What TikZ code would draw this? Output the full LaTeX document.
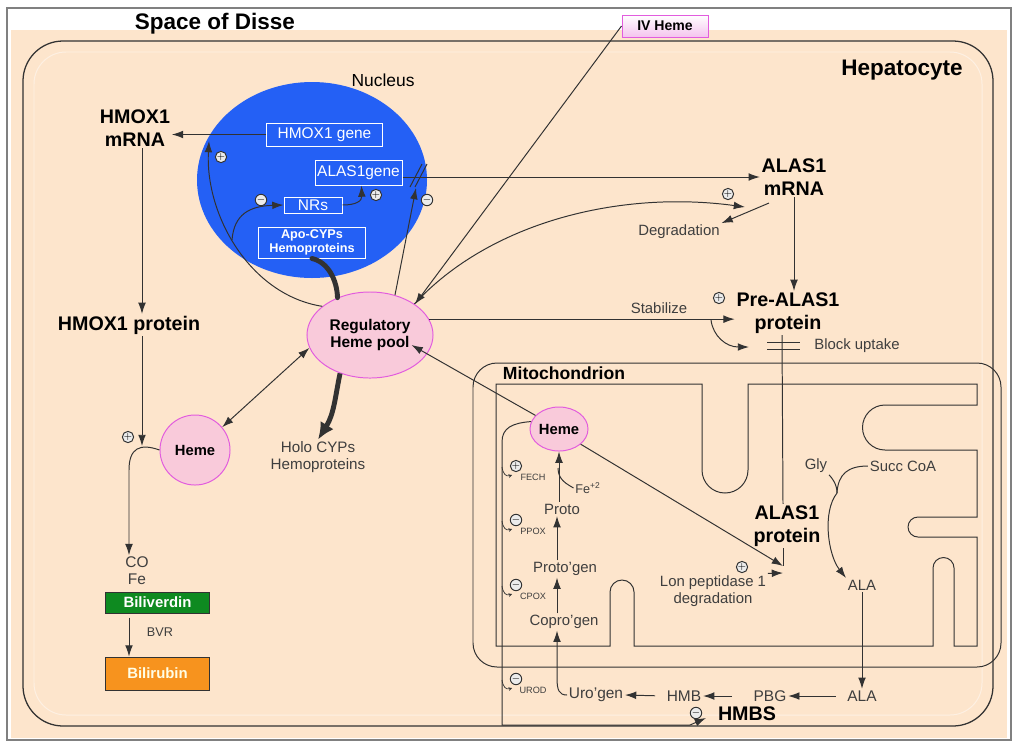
\documentclass[tikz,border=0pt]{standalone}
\usepackage{fontspec}
\setmainfont{Liberation Sans}
\usetikzlibrary{arrows.meta,calc,shapes.geometric}
\definecolor{peach}{RGB}{253,229,204}
\definecolor{nucblue}{RGB}{36,96,245}
\definecolor{pinkfill}{RGB}{249,202,218}
\definecolor{pinkline}{RGB}{226,92,222}
\definecolor{ivpink}{RGB}{244,196,238}
\definecolor{bvgreen}{RGB}{14,138,32}
\definecolor{brorange}{RGB}{247,147,30}
\definecolor{ink}{RGB}{50,50,50}
\definecolor{txt}{RGB}{62,62,62}
\newcommand\fsz[2]{\fontsize{#1}{#2}\selectfont}

\begin{document}
\begin{tikzpicture}[x=0.025cm,y=-0.025cm,line width=0.7pt,ink,
  arr/.style={-{Latex[length=8pt,width=5.5pt]}},
  lab/.style={text=txt,font=\fsz{10.6}{12.5},inner sep=1pt,align=center},
  big/.style={text=black,font=\fsz{14}{16}\bfseries,inner sep=1pt,align=center},
  gene/.style={draw=white,text=white,font=\fsz{11}{13},inner sep=0pt,align=center},
  hemenode/.style={ellipse,draw=pinkline,fill=pinkfill,text=black,font=\fsz{10.5}{12}\bfseries,inner sep=0pt},
  sgn/.style={circle,draw=ink,fill=white!85!gray,text=black,inner sep=0pt,minimum size=0.24cm,font=\fsz{7}{7}},
  enz/.style={text=txt,font=\fsz{6.5}{7},inner sep=0pt},
  hk/.style={-{Stealth[length=2.5pt,width=2.5pt]},line width=0.5pt}]
\useasboundingbox (0,0) rectangle (1024,752);
\fill[peach] (11,30) rectangle (1007,738);
\draw[gray,line width=1.1pt] (7,8) rectangle (1011,740);
\draw[line width=0.9pt,rounded corners=1cm] (23,41) rectangle (993,726);
\draw[white,opacity=0.45,rounded corners=0.8cm] (34,52) rectangle (982,715);
\fill[nucblue] (312,180) ellipse [x radius=115,y radius=98];
\draw[rounded corners=0.6cm] (473,363) rectangle (1001,667);
\draw (496,384) -- (702,384) -- (702,470) arc[start angle=180,end angle=0,radius=23] -- (748,384) -- (977,384) -- (977,405) -- (885,405) arc[start angle=270,end angle=90,radius=22.5] -- (977,450) -- (977,517) -- (918,517) arc[start angle=270,end angle=90,radius=10] -- (977,537) -- (977,646) -- (954,646) -- (954,568) arc[start angle=0,end angle=-180,radius=10.5] -- (933,646) -- (634,646) -- (634,592) arc[start angle=0,end angle=-180,radius=12] -- (610,646) -- (496,646) -- cycle;

\node[font=\fsz{16}{18}\bfseries,text=black] (disse) at (215,24) {Space of Disse};
\node[font=\fsz{16}{18}\bfseries,text=black] (hep) at (902,70) {Hepatocyte};
\node[font=\fsz{12.4}{14},text=black] (nuc) at (383,80) {Nucleus};
\node[font=\fsz{12.5}{14}\bfseries,text=black] (mito) at (564,373) {Mitochondrion};
\node[draw=pinkline,top color=white,bottom color=ivpink,text=black,font=\fsz{10}{12}\bfseries,minimum width=2.15cm,minimum height=0.55cm,inner sep=0pt] (iv) at (665,26) {IV Heme};

\node[gene,minimum width=2.875cm,minimum height=0.575cm] (hgene) at (324.5,134.5) {HMOX1 gene};
\node[gene,minimum width=2.175cm,minimum height=0.625cm] (agene) at (358.5,172.5) {ALAS1gene};
\node[gene,minimum width=1.45cm,minimum height=0.4cm] (nrs) at (313,205) {NRs};
\node[gene,font=\fsz{9}{10}\bfseries,minimum width=2.65cm,minimum height=0.775cm] (apo) at (312,242.5) {Apo-CYPs\\Hemoproteins};

\node[big] (hrna) at (135,128) {HMOX1\\mRNA};
\node[big] (hprot) at (129,325) {HMOX1 protein};
\node[big] (arna) at (794,177) {ALAS1\\mRNA};
\node[big] (prea) at (788,313) {Pre-ALAS1\\protein};
\node[big] (aprot) at (787,526) {ALAS1\\protein};
\node[big] (hmbs) at (747,714) {HMBS};

\node[hemenode,minimum width=3.15cm,minimum height=2.15cm,font=\fsz{11}{12.5}\bfseries,align=center] (pool) at (370,335) {Regulatory\\Heme pool};
\node[hemenode,minimum width=1.75cm,minimum height=1.75cm] (hemeC) at (195,450) {Heme};
\node[hemenode,minimum width=1.45cm,minimum height=1.1cm] (hemeM) at (559,429) {Heme};

\node[lab] (deg) at (679,232) {Degradation};
\node[lab] (stab) at (659,308) {Stabilize};
\node[lab] (blk) at (857,346) {Block uptake};
\node[lab,font=\fsz{10.8}{12}] (holo) at (318,457) {Holo CYPs\\Hemoproteins};
\node[lab,font=\fsz{11}{12}] (co) at (137,571) {CO\\Fe};
\node[draw=ink,fill=bvgreen,text=white,font=\fsz{10.6}{12}\bfseries,minimum width=2.575cm,minimum height=0.525cm,inner sep=0pt] (bv) at (157.5,602.5) {Biliverdin};
\node[draw=ink,fill=brorange,text=white!90!yellow,font=\fsz{10.6}{12}\bfseries,minimum width=2.575cm,minimum height=0.825cm,inner sep=0pt] (br) at (157.5,673.5) {Bilirubin};
\node[lab,font=\fsz{9}{10}] (bvr) at (160,632) {BVR};

\node[lab] (proto) at (562,509) {Proto};
\node[lab] (protog) at (565,569) {Proto'gen};
\node[lab] (copro) at (564,622) {Copro'gen};
\node[lab,font=\fsz{9}{10}] (fe) at (588,488) {Fe\textsuperscript{+2}};
\node[lab] (lon) at (713,591) {Lon peptidase 1\\degradation};
\node[lab] (gly) at (816,466) {Gly};
\node[lab] (succ) at (903,466) {Succ CoA};
\node[lab] (alaM) at (862,585) {ALA};
\node[lab,font=\fsz{11}{12}] (alaB) at (862,696) {ALA};
\node[lab,font=\fsz{11}{12}] (pbg) at (770,696) {PBG};
\node[lab,font=\fsz{11}{12}] (hmb) at (684,696) {HMB};
\node[lab,font=\fsz{11}{12}] (uro) at (596,695) {Uro'gen};

\coordinate (hup) at (209,141);
\coordinate (fork) at (232,240);
\coordinate (slash) at (416,188);
\coordinate (dtip) at (745,207);
\coordinate (bk) at (711,320);
\coordinate (bktip) at (749,347);
\coordinate (lontip) at (783,566);
\coordinate (jn) at (142,446);
\coordinate (join) at (837,493);
\coordinate (hmbtip) at (706,718);

\draw[arr] (hgene.west) -- (hgene.west -| hrna.east);
\draw[arr] (pool.149) .. controls (250,295) and (205,215) .. (hup);
\draw[arr] (fork) .. controls (234,214) and (250,206) .. (nrs.west);
\draw[arr] (nrs.east) .. controls (356,205) and (362,201) .. ($(agene.south)+(3,0)$);
\draw[arr] (agene.east |- arna.west) -- (arna.west);
\foreach \d in {0,5} \draw (410+\d,187) -- (422+\d,164);
\draw[arr] (pool.58) -- (slash);
\draw[arr] (iv.west) -- (pool.north east);
\draw[arr] (pool.35) .. controls (490,222) and (620,190) .. (dtip);
\draw[arr] ($(arna.south)+(-25,6)$) -- (deg.north east);
\draw[arr] (arna.south) -- (arna.south |- prea.north);
\draw[arr] (pool.15) -- (pool.15 -| prea.west);
\draw[arr] (bk) .. controls (713,336) and (726,347) .. (bktip);
\draw (767,342) -- (800,342) (767,349) -- (800,349);
\draw ($(prea.south)+(-6,0)$) -- ($(aprot.north)+(-4,0)$);
\draw ($(aprot.south)+(-4,0)$) -- (lontip);
\draw[arr] (hemeM.-35) -- (lontip);
\draw[arr] (lon.north east) -- ($(lontip)+(0,7)$);
\draw[arr] (hemeM.150) -- ($(pool.east)+(-22,10)$);
\draw[{Latex[length=8pt,width=5.5pt]}-{Latex[length=8pt,width=5.5pt]}] (pool.192) -- (hemeC.40);
\draw[line width=3.5pt,line cap=round] (apo.south) .. controls (328,262) and (337,280) .. (pool.131);
\draw[line width=3.5pt,-{Latex[length=12pt,width=11pt]}] (pool.232) .. controls (335,398) and (334,414) .. (holo.north);

\draw[arr] (jn |- hrna.south) -- (jn |- hprot.north);
\draw[arr] (jn |- hprot.south) -- (jn);
\draw[arr] (hemeC.west) .. controls (140,443) and (129,448) .. (129,470) -- ($(co.north)+(-8,0)$);
\draw[arr,shorten <=3pt] ($(bv.south)+(-28.5,0)$) -- ($(br.north)+(-28.5,0)$);

\draw[arr] (uro.west) .. controls (559,695) and (557,690) .. (557,678) -- ($(copro.south)+(-7,0)$);
\draw[arr] ($(copro.north)+(-7,0)$) -- ($(protog.south)+(-8,0)$);
\draw[arr] ($(protog.north)+(-8,0)$) -- ($(proto.south)+(-5,0)$);
\draw[arr] ($(proto.north)+(-3,0)$) -- (hemeM.south);
\draw (fe.west) .. controls (567,484) and (558,480) .. (558,468);
\draw[arr] (hemeM.165) .. controls (512,423) and (502,428) .. (502,442) -- (502,725) -- (690,725) -- (hmbtip);
\draw[arr] (alaM.south) -- (alaB.north);
\draw[arr,shorten <=7pt] (alaB.west) -- (pbg.east);
\draw[arr,shorten <=14pt] (pbg.west) -- (hmb.east);
\draw[arr,shorten <=7pt] (hmb.west) -- (uro.east);
\draw (gly.south east) .. controls (832,478) and (837,484) .. (join);
\draw (succ.west) .. controls (848,466) and (838,474) .. (join);
\draw[arr] (join) .. controls (822,512) and (828,555) .. (alaM.north west);

\foreach \y/\s/\t [count=\k] in {466/+/FECH,520/-/PPOX,585/-/CPOX,679/-/UROD}{
  \draw[hk] (502,\y+1) .. controls (503,\y+8) and (506,\y+11) .. (512,\y+9);
  \node[sgn] (es\k) at (516,\y) {$\s$};
  \node[enz] (en\k) at (533,\y+11) {\t};
}
\foreach \x/\y/\s [count=\k] in {221/157/+,261/200/-,376/195/+,427/200/-,728/194/+,719/298/+,742/567/+,128/437/+,696/713/-}
  \node[sgn] (sg\k) at (\x,\y) {$\s$};
\end{tikzpicture}
\end{document}
